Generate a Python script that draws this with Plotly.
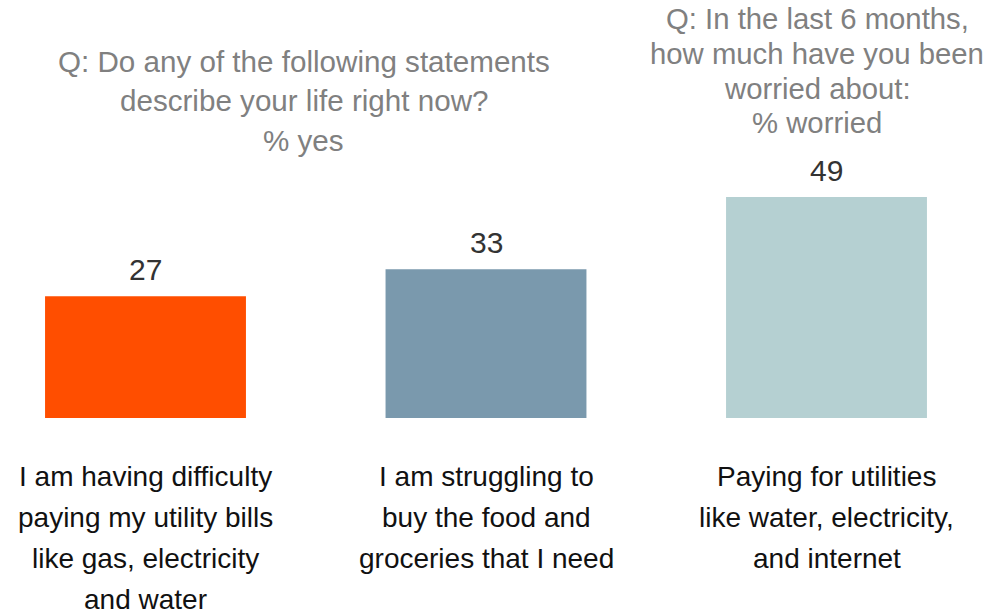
import plotly.graph_objects as go

# ---- data ----
categories = ["utility bills", "food and groceries", "utilities worry"]
values = [27, 33, 49]
bar_colors = ["#FF4E00", "#7A99AD", "#B5D0D2"]
category_lines = [
    ["I am having difficulty", "paying my utility bills", "like gas, electricity", "and water"],
    ["I am struggling to", "buy the food and", "groceries that I need"],
    ["Paying for utilities", "like water, electricity,", "and internet"],
]
title1_lines = ["Q: Do any of the following statements", "describe your life right now?", "% yes"]
title2_lines = ["Q: In the last 6 months,", "how much have you been", "worried about:", "% worried"]

FONT = "Liberation Sans, Arial, Helvetica, sans-serif"
W, H = 984, 610
PLOT_BOTTOM = 418  # pixel of baseline
Y_MAX = PLOT_BOTTOM / 4.51

x_idx = list(range(len(categories)))

fig = go.Figure()
fig.add_trace(go.Bar(
    x=x_idx, y=values, marker=dict(color=bar_colors, line=dict(width=0)),
    width=0.59, hoverinfo="skip", showlegend=False,
))

def py_to_paper(py):
    return (PLOT_BOTTOM - py) / PLOT_BOTTOM

ann = []
# value labels
for i, v in enumerate(values):
    ann.append(dict(x=i, y=v, xref="x", yref="y", text=str(v), showarrow=False,
                    yanchor="bottom", yshift=8,
                    font=dict(family=FONT, size=30, color="#333333")))
# category labels
for i, lines in enumerate(category_lines):
    for j, line in enumerate(lines):
        ann.append(dict(x=i, y=py_to_paper(476 + 41 * j), xref="x", yref="paper",
                        text=line, showarrow=False, yanchor="middle", xanchor="center",
                        font=dict(family=FONT, size=28, color="#111111")))
# titles
for j, line in enumerate(title1_lines):
    ann.append(dict(x=303.5 / W, y=py_to_paper(61 + 39.5 * j), xref="paper", yref="paper",
                    text=line, showarrow=False, yanchor="middle", xanchor="center",
                    font=dict(family=FONT, size=29.6, color="#808080")))
for j, line in enumerate(title2_lines):
    ann.append(dict(x=817 / W, y=py_to_paper(19 + 34.5 * j), xref="paper", yref="paper",
                    text=line, showarrow=False, yanchor="middle", xanchor="center",
                    font=dict(family=FONT, size=29.3, color="#808080")))

x0 = -145.5 / 340.5
x1 = x0 + W / 340.5

fig.update_layout(
    width=W, height=H,
    margin=dict(l=0, r=0, t=0, b=H - PLOT_BOTTOM, pad=0),
    paper_bgcolor="white", plot_bgcolor="white",
    xaxis=dict(range=[x0, x1], visible=False, fixedrange=True),
    yaxis=dict(range=[0, Y_MAX], visible=False, fixedrange=True),
    annotations=ann,
    font=dict(family=FONT),
)

fig.write_html(
    "out.html",
    config={"displayModeBar": False},
    post_script="document.body.style.margin='0';document.body.style.overflow='hidden';",
)
